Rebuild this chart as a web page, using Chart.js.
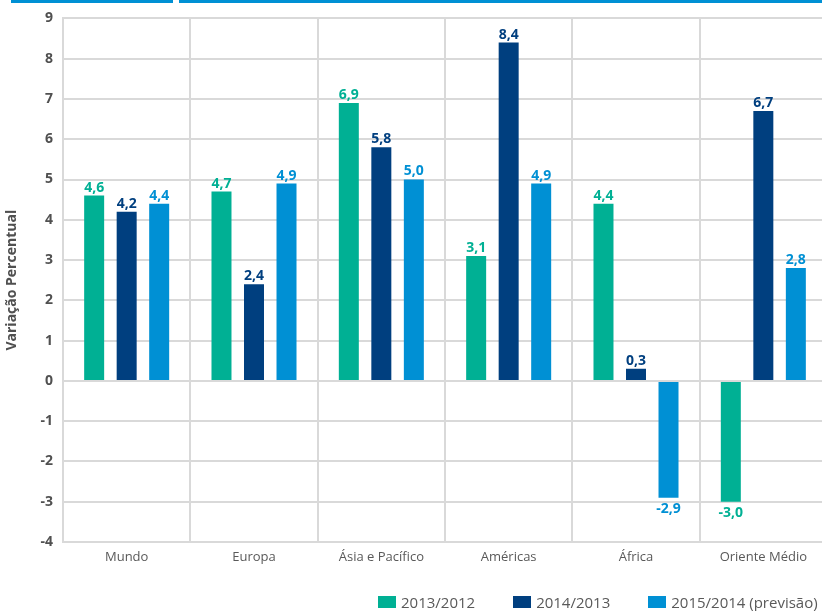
<!DOCTYPE html>
<html lang="pt">
<head>
    <meta charset="UTF-8">
    <title>Variação Percentual</title>
    <style>
        html, body {
            margin: 0;
            padding: 0;
            background: #fff;
            overflow: hidden;
            font-family: "Open Sans", sans-serif;
        }
        .top-bar {
            position: absolute;
            top: 0;
            height: 3px;
            background-color: #0090d4;
        }
        .chart-box {
            position: absolute;
            left: 0;
            top: 0;
            width: 830px;
            height: 611px;
        }
        /* legenda em HTML, alinhada à direita como no original */
        #legend {
            position: absolute;
            left: 378px;
            top: 592px;
            display: flex;
            gap: 38px;
            font-size: 15px;
            color: #595959;
            white-space: nowrap;
        }
        #legend .item {
            display: flex;
            align-items: center;
        }
        #legend .box {
            width: 18px;
            height: 12px;
            margin-right: 5px;
        }
    </style>
</head>
<body>
    <div class="top-bar" style="left:11px; width:162px;"></div>
    <div class="top-bar" style="left:179px; width:643px;"></div>
    <div class="chart-box">
        <canvas id="chart"></canvas>
    </div>
    <div id="legend"></div>

    <script src="https://cdn.jsdelivr.net/npm/chart.js"></script>
    <script>
        const regions = ['Mundo', 'Europa', 'Ásia e Pacífico', 'Américas', 'África', 'Oriente Médio'];
        const seriesNames = ['2013/2012', '2014/2013', '2015/2014 (previsão)'];
        const v2013 = [4.6, 4.7, 6.9, 3.1, 4.4, -3.0];
        const v2014 = [4.2, 2.4, 5.8, 8.4, 0.3, 6.7];
        const v2015 = [4.4, 4.9, 5.0, 4.9, -2.9, 2.8];
        const colors = ['#00b094', '#003f7f', '#0090d4'];

        // rótulos de valor em cima (ou embaixo) das barras
        const valueLabels = {
            id: 'valueLabels',
            afterDatasetsDraw(chart) {
                const ctx = chart.ctx;
                ctx.save();
                ctx.font = 'bold 14px "Open Sans", sans-serif';
                ctx.textAlign = 'center';
                chart.data.datasets.forEach((ds, i) => {
                    chart.getDatasetMeta(i).data.forEach((bar, j) => {
                        const v = ds.data[j];
                        const txt = v.toFixed(1).replace('.', ',');
                        ctx.fillStyle = ds.backgroundColor;
                        if (v >= 0) {
                            ctx.textBaseline = 'bottom';
                            ctx.fillText(txt, bar.x, bar.y - 1);
                        } else {
                            ctx.textBaseline = 'top';
                            ctx.fillText(txt, bar.x, bar.y + 4);
                        }
                    });
                });
                ctx.restore();
            }
        };

        new Chart(document.getElementById('chart'), {
            type: 'bar',
            data: {
                labels: regions,
                datasets: [v2013, v2014, v2015].map((d, i) => ({
                    label: seriesNames[i],
                    data: d,
                    backgroundColor: colors[i],
                    categoryPercentage: 0.766,
                    barPercentage: 0.615
                }))
            },
            options: {
                responsive: true,
                maintainAspectRatio: false,
                animation: false,
                layout: { padding: { top: 14, left: 0, right: 3, bottom: 47 } },
                plugins: {
                    tooltip: { enabled: false },
                    legend: { display: false }
                },
                scales: {
                    x: {
                        grid: { color: '#d9d9d9', lineWidth: 2, offset: true, drawTicks: false },
                        border: { color: '#d9d9d9', width: 2 },
                        afterFit(scale) { scale.height = 22; },
                        ticks: {
                            color: '#595959',
                            padding: 7,
                            font: { family: '"Open Sans", sans-serif', size: 13 }
                        }
                    },
                    y: {
                        min: -4,
                        max: 9,
                        grid: { color: '#d9d9d9', lineWidth: 2, drawTicks: false },
                        border: { color: '#d9d9d9', width: 2 },
                        afterFit(scale) { scale.width = 63; },
                        ticks: {
                            stepSize: 1,
                            padding: 10,
                            color: '#505050',
                            font: { family: '"Open Sans", sans-serif', size: 14, weight: 'bold' }
                        },
                        title: {
                            display: true,
                            text: 'Variação Percentual',
                            color: '#505050',
                            padding: { top: 4, bottom: 0 },
                            font: { family: '"Open Sans", sans-serif', size: 14, weight: 'bold' }
                        }
                    }
                }
            },
            plugins: [valueLabels]
        });

        // legenda
        const legend = document.getElementById('legend');
        seriesNames.forEach((name, i) => {
            const item = document.createElement('span');
            item.className = 'item';
            item.innerHTML = '<span class="box" style="background:' + colors[i] + '"></span>' + name;
            legend.appendChild(item);
        });
    </script>
</body>
</html>
